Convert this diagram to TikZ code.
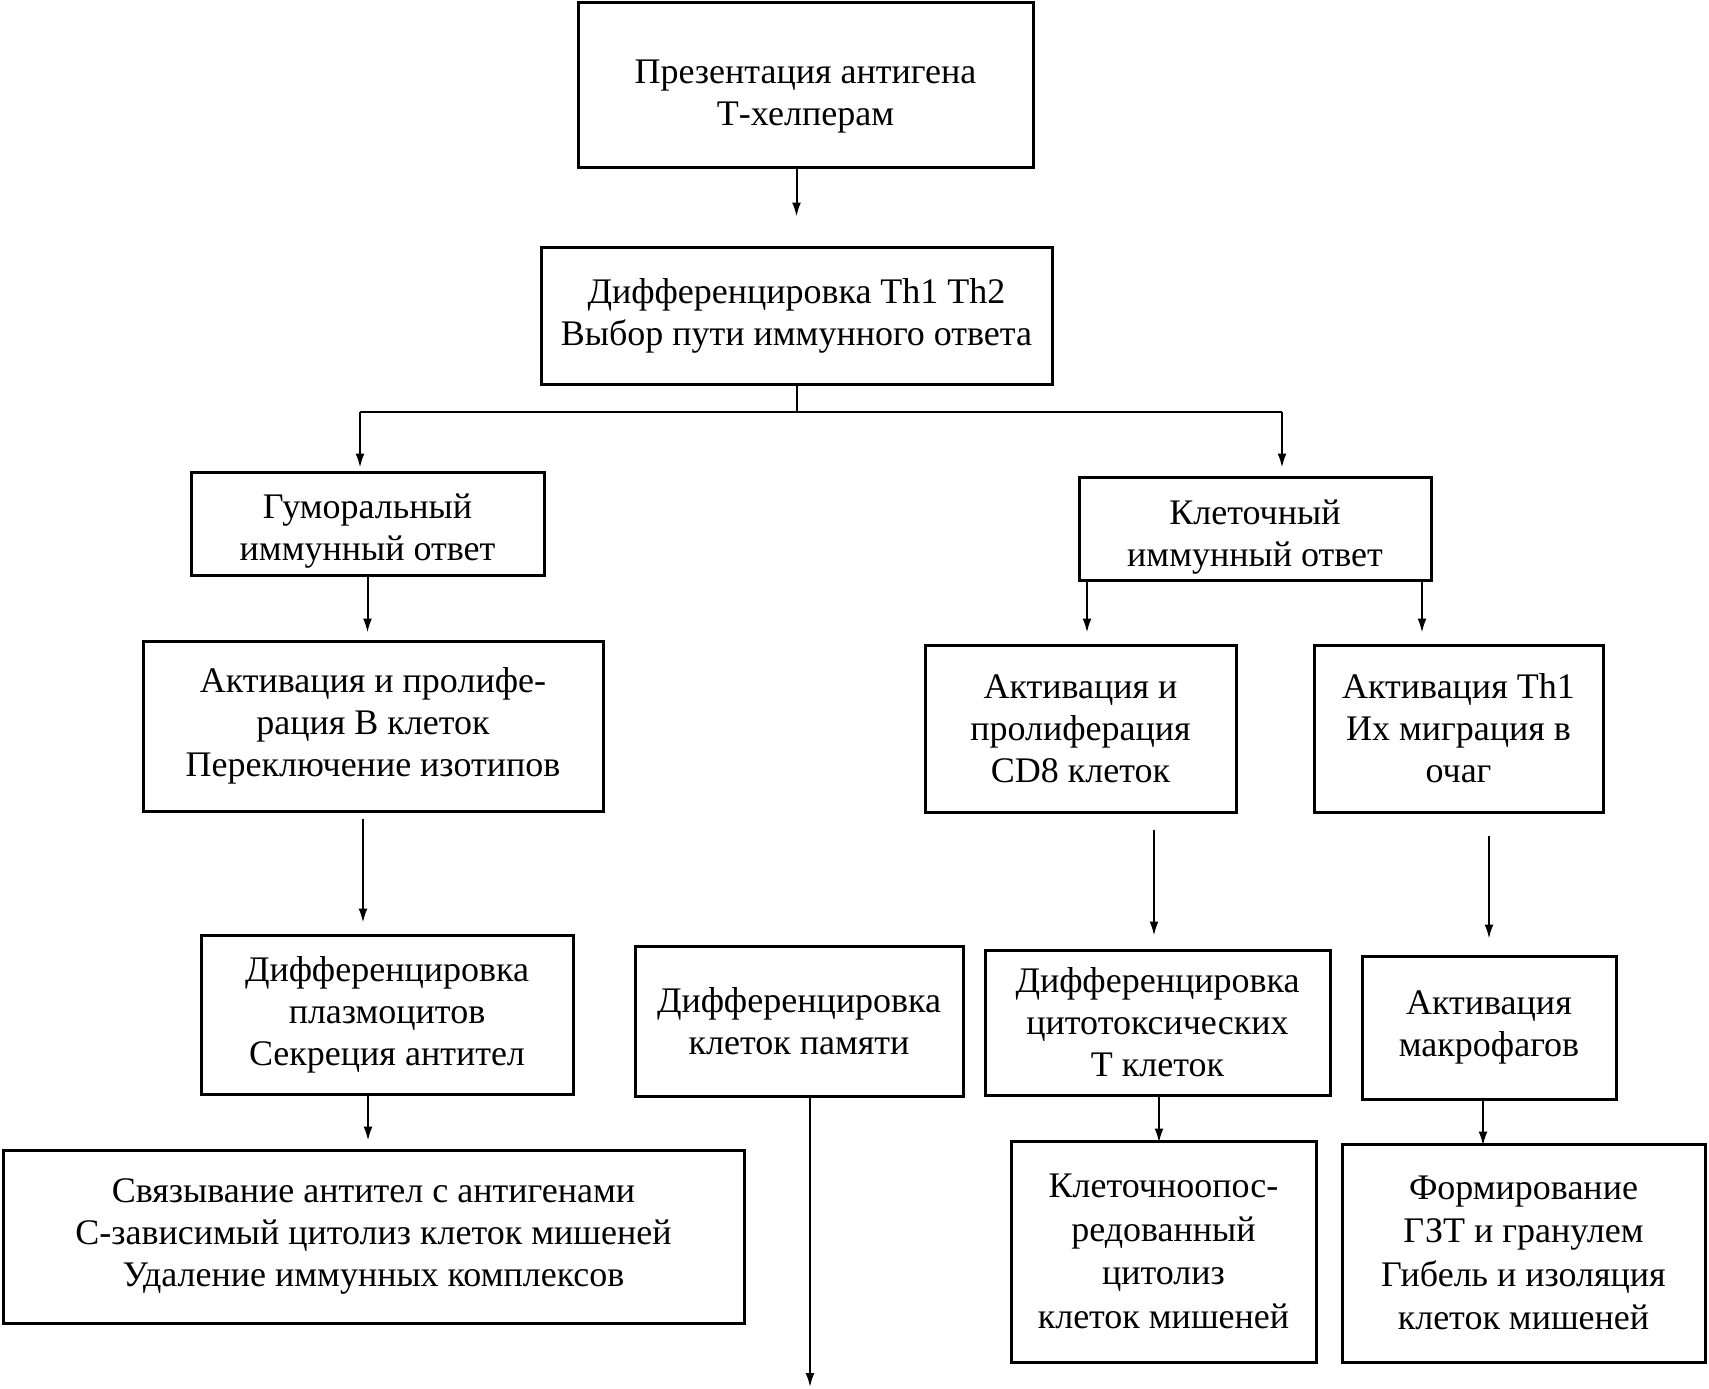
\documentclass[tikz,border=0pt]{standalone}
\usepackage{fontspec}
\setmainfont{Liberation Serif}
\usetikzlibrary{arrows.meta}
\begin{document}
\begin{tikzpicture}[x=1pt,y=-1pt,
  box/.style={draw, line width=3pt, inner sep=0pt, align=center, font=\fontsize{36}{42}\selectfont},
  txt/.style={inner sep=0pt, align=center, font=\fontsize{36}{42}\selectfont},
  tall/.style={font=\fontsize{36}{43.5}\selectfont},
  arr/.style={line width=2pt, -{Latex[length=14pt,width=9pt]}},
  ln/.style={line width=2pt}]
\useasboundingbox (0,0) rectangle (1709,1389);
\fill[white] (0,0) rectangle (1709,1389);
\node[box, minimum width=455, minimum height=164] (b1) at (805.5,85) {};
\node[txt] (t1) at (805.5,97) {Презентация антигена\\Т-хелперам};
\node[box, minimum width=511, minimum height=137] (b2) at (796.5,315.5) {Дифференцировка Th1 Th2\\Выбор пути иммунного ответа};
\node[box, minimum width=353, minimum height=103] (b3) at (367.5,523.5) {};
\node[txt] (t3) at (367.5,531) {Гуморальный\\иммунный ответ};
\node[box, minimum width=352, minimum height=103] (b4) at (1255,528.5) {};
\node[txt] (t4) at (1255,537) {Клеточный\\иммунный ответ};
\node[box, minimum width=460, minimum height=170] (b5) at (373,726) {Активация и пролифе-\\рация В клеток\\Переключение изотипов};
\node[box, minimum width=311, minimum height=167] (b6) at (1080.5,728.5) {Активация и\\пролиферация\\CD8 клеток};
\node[box, minimum width=289, minimum height=167] (b7) at (1458.5,728.5) {Активация Th1\\Их миграция в\\очаг};
\node[box, minimum width=372, minimum height=159] (b8) at (387,1014.5) {Дифференцировка\\плазмоцитов\\Секреция антител};
\node[box, minimum width=328, minimum height=150] (b9) at (799,1021) {Дифференцировка\\клеток памяти};
\node[box, minimum width=345, minimum height=145] (b10) at (1157.5,1022.5) {Дифференцировка\\цитотоксических\\Т клеток};
\node[box, minimum width=254, minimum height=143] (b11) at (1489,1027.5) {Активация\\макрофагов};
\node[box, minimum width=741, minimum height=173] (b12) at (373.5,1236.5) {Связывание антител с антигенами\\С-зависимый цитолиз клеток мишеней\\Удаление иммунных комплексов};
\node[box, tall, minimum width=305, minimum height=221] (b13) at (1163.5,1251.5) {Клеточноопос-\\редованный\\цитолиз\\клеток мишеней};
\node[box, tall, minimum width=363, minimum height=218] (b14) at (1523.5,1253) {Формирование\\ГЗТ и гранулем\\Гибель и изоляция\\клеток мишеней};
\coordinate (xl) at (360,412);
\coordinate (xr) at (1282,412);
\coordinate (c6) at (1087,0);
\coordinate (c7) at (1422,0);
\coordinate (c8) at (363,0);
\coordinate (c10) at (1154,0);
\coordinate (c7b) at (1489,0);
\coordinate (c12) at (368,0);
\coordinate (c9) at (810,0);
\coordinate (end9) at (810,1387);
\coordinate (c13) at (1159,0);
\coordinate (c14) at (1483,0);
\draw[arr, shorten >=29] (b1.south -| b2.north) -- (b2.north);
\draw[ln] (b2.south) -- (b2.south |- xl);
\draw[ln] (xl) -- (xr);
\draw[arr, shorten >=3] (xl) -- (xl |- b3.north);
\draw[arr, shorten >=8] (xr) -- (xr |- b4.north);
\draw[arr, shorten >=7] (b3.south) -- (b3.south |- b5.north);
\draw[arr, shorten >=11] (b4.south -| c6) -- (b6.north -| c6);
\draw[arr, shorten >=11] (b4.south -| c7) -- (b7.north -| c7);
\draw[arr, shorten <=6, shorten >=11] (b5.south -| c8) -- (b8.north -| c8);
\draw[arr, shorten <=16, shorten >=13] (b6.south -| c10) -- (b10.north -| c10);
\draw[arr, shorten <=22, shorten >=16] (b7.south -| c7b) -- (b11.north -| c7b);
\draw[arr, shorten >=8] (b8.south -| c12) -- (b12.north -| c12);
\draw[arr] (b9.south -| c9) -- (end9);
\draw[arr, shorten >=-3] (b10.south -| c13) -- (b13.north -| c13);
\draw[arr, shorten >=-3] (b11.south -| c14) -- (b14.north -| c14);
\end{tikzpicture}
\end{document}
